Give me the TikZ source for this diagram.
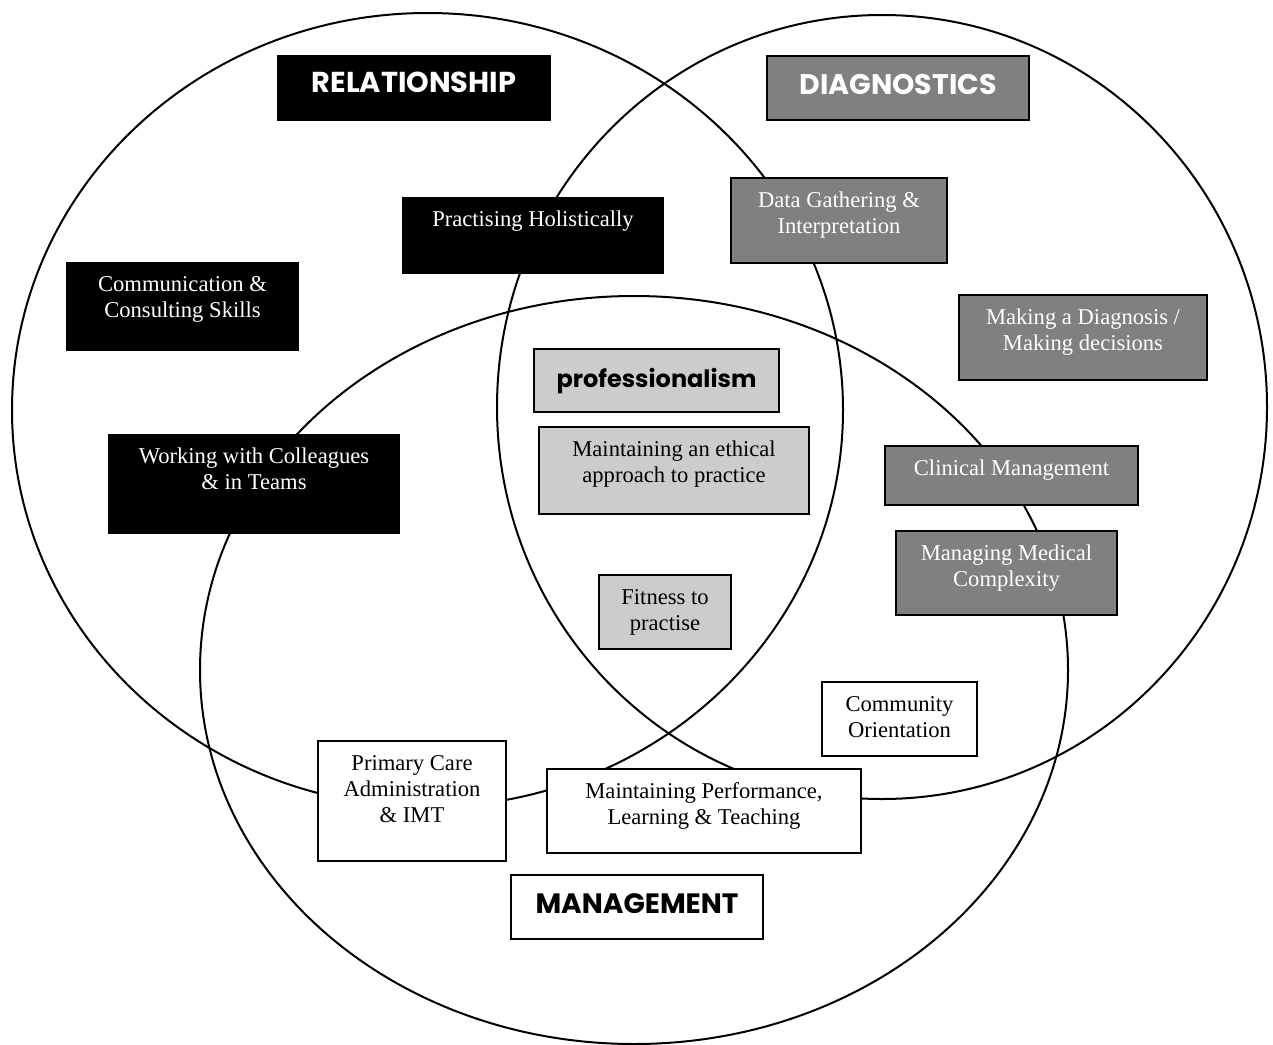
\documentclass[tikz,border=0pt]{standalone}
\usepackage{fontspec}
\setmainfont{Liberation Serif}
\newfontfamily\headfont{Poppins}
\definecolor{midgrey}{HTML}{808080}
\definecolor{lightgrey}{HTML}{CCCCCC}
% text sits at the top of each box, as in a word-processor text box
\newcommand{\boxtxt}[3]{\parbox[c][#2][t]{#1}{\centering\rule{0pt}{14.5pt}#3\par}}
\newcommand{\headtxt}[4][14]{\parbox[c][#3][t]{#2}{\centering\headfont\bfseries\fontsize{#1}{16}\selectfont\rule{0pt}{19pt}#4\par}}

\begin{document}
\begin{tikzpicture}[x=0.5pt,y=-0.5pt,
  every node/.style={inner sep=0pt,font=\fontsize{11.3}{13}\selectfont},
  darkbox/.style={fill=black,text=white},
  greybox/.style={draw=black,line width=1pt,fill=midgrey,text=white},
  lightbox/.style={draw=black,line width=1pt,fill=lightgrey},
  plainbox/.style={draw=black,line width=1pt,fill=white}]

\useasboundingbox (0,0) rectangle (1273,1044);

% the three circles
\draw [line width=1pt] (427.5,410) ellipse [x radius=415.5, y radius=397];
\draw [line width=1pt] (882,407) ellipse [x radius=385, y radius=392];
\draw [line width=1pt] (634,670) ellipse [x radius=434, y radius=374];

% relationship
\node [darkbox] (relation) at (414,88) {\headtxt[14.4]{137pt}{33pt}{RELATIONSHIP}};
\node [darkbox] (holistic) at (533,235.5) {\boxtxt{131pt}{38.5pt}{Practising Holistically}};
\node [darkbox] (consult) at (182.5,306.5) {\boxtxt{116.5pt}{44.5pt}{Communication \&\\Consulting Skills}};
\node [darkbox] (teams) at (254,484) {\boxtxt{146pt}{50pt}{Working with Colleagues\\\& in Teams}};

% diagnostics
\node [greybox] (diagnost) at (898,88) {\headtxt[14.2]{131pt}{32pt}{DIAGNOSTICS}};
\node [greybox] (datagath) at (839,220.5) {\boxtxt{108pt}{42.5pt}{Data Gathering \&\\Interpretation}};
\node [greybox] (decision) at (1083,337.5) {\boxtxt{124pt}{42.5pt}{Making a Diagnosis /\\Making decisions}};
\node [greybox] (clinical) at (1011.5,475.5) {\boxtxt{126.5pt}{29.5pt}{Clinical Management}};
\node [greybox] (complex) at (1006.5,573) {\boxtxt{110.5pt}{42pt}{Managing Medical\\Complexity}};

% professionalism
\node [lightbox] (profess) at (656.5,380.5) {\headtxt[12]{122.5pt}{31.5pt}{professionalism}};
\node [lightbox] (ethical) at (674,470.5) {\boxtxt{135pt}{43.5pt}{Maintaining an ethical\\approach to practice}};
\node [lightbox] (fitness) at (665,612) {\boxtxt{66pt}{37pt}{Fitness to\\practise}};

% management
\node [plainbox] (communit) at (899.5,719) {\boxtxt{77.5pt}{37pt}{Community\\Orientation}};
\node [plainbox] (primary) at (412,801) {\boxtxt{94pt}{60pt}{Primary Care\\Administration\\\& IMT}};
\node [plainbox] (perform) at (704,811) {\boxtxt{157pt}{42pt}{Maintaining Performance,\\Learning \& Teaching}};
\node [plainbox] (manage) at (637,907) {\headtxt{126pt}{32pt}{MANAGEMENT}};
\end{tikzpicture}
\end{document}
